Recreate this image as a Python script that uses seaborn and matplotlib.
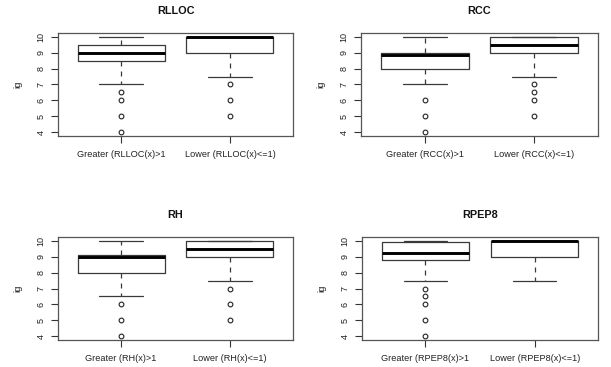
import matplotlib
matplotlib.use("Agg")
import matplotlib.pyplot as plt
import seaborn as sns

sns.set_theme(style="ticks")
plt.rcParams['font.family'] = ['Liberation Sans', 'DejaVu Sans']

metrics = ["RLLOC", "RCC", "RH", "RPEP8"]

# (lower whisker, Q1, median, Q3, upper whisker) for each metric group
rlloc_greater = [7.0, 8.5, 9.0, 9.5, 10.0]
rlloc_lower = [7.5, 9.0, 10.0, 10.0, 10.0]
rcc_greater = [7.0, 8.0, 8.83, 9.0, 10.0]
rcc_lower = [7.5, 9.0, 9.5, 10.0, 10.0]
rh_greater = [6.5, 8.0, 9.0, 9.1, 10.0]
rh_lower = [7.5, 9.0, 9.5, 10.0, 10.0]
rpep8_greater = [7.5, 8.82, 9.22, 9.9, 10.0]
rpep8_lower = [7.5, 9.0, 10.0, 10.0, 10.0]

# outlying observations
rlloc_greater_out = [6.5, 6.0, 5.0, 4.0]
rlloc_lower_out = [7.0, 6.0, 5.0]
rcc_greater_out = [6.0, 5.0, 4.0]
rcc_lower_out = [7.0, 6.5, 6.0, 5.0]
rh_greater_out = [6.0, 5.0, 4.0]
rh_lower_out = [7.0, 6.0, 5.0]
rpep8_greater_out = [7.0, 6.5, 6.0, 5.0, 4.0]
rpep8_lower_out = []

y_ticks = [4, 5, 6, 7, 8, 9, 10]

groups = {
    "RLLOC": (rlloc_greater, rlloc_greater_out, rlloc_lower, rlloc_lower_out),
    "RCC": (rcc_greater, rcc_greater_out, rcc_lower, rcc_lower_out),
    "RH": (rh_greater, rh_greater_out, rh_lower, rh_lower_out),
    "RPEP8": (rpep8_greater, rpep8_greater_out, rpep8_lower, rpep8_lower_out),
}


def make_stats(five, fliers, label):
    lo, q1, med, q3, hi = five
    return dict(whislo=lo, q1=q1, med=med, q3=q3, whishi=hi, fliers=fliers, label=label)


fig = plt.figure(figsize=(6.11, 3.67), dpi=100)
fig.patch.set_facecolor("white")

positions = {
    "RLLOC": [58 / 611, 1 - 136 / 367, 235 / 611, 103 / 367],
    "RCC": [361 / 611, 1 - 136 / 367, 237 / 611, 103 / 367],
    "RH": [58 / 611, 1 - 340 / 367, 235 / 611, 103 / 367],
    "RPEP8": [362 / 611, 1 - 340 / 367, 236 / 611, 103 / 367],
}

line_col = "#3a3a3a"

for name in metrics:
    g_five, g_out, l_five, l_out = groups[name]
    ax = fig.add_axes(positions[name])
    stats = [
        make_stats(g_five, g_out, f"Greater ({name}(x)>1"),
        make_stats(l_five, l_out, f"Lower ({name}(x)<=1)"),
    ]
    ax.bxp(
        stats,
        positions=[1, 2],
        widths=0.8,
        showfliers=True,
        boxprops=dict(color=line_col, linewidth=0.9),
        medianprops=dict(color="black", linewidth=2.1, solid_capstyle="butt"),
        whiskerprops=dict(color=line_col, linewidth=0.9, linestyle=(0, (4, 4))),
        capprops=dict(color=line_col, linewidth=0.9),
        capwidths=0.4,
        flierprops=dict(marker="o", markersize=3.4, markerfacecolor="none",
                        markeredgecolor="#222222", markeredgewidth=0.8),
    )
    ax.set_xlim(0.42, 2.58)
    ax.set_ylim(3.76, 10.24)
    ax.set_yticks(y_ticks)
    ax.set_yticklabels([str(t) for t in y_ticks], rotation=90, va="center")
    ax.tick_params(axis="both", direction="out", length=5, width=0.8,
                   colors="#333333", labelsize=6.5, labelcolor="#222222")
    ax.tick_params(axis="x", pad=5, labelsize=6.6)
    ax.tick_params(axis="y", pad=4)
    for sp in ax.spines.values():
        sp.set_color("#555555")
        sp.set_linewidth(0.9)
        sp.set_visible(True)
    ax.set_facecolor("white")
    ax.set_ylabel("ig", fontsize=6.8, color="#222222", labelpad=10)
    ax.annotate(name, xy=(0.5, 1.0), xycoords="axes fraction",
                xytext=(0, 15.5), textcoords="offset points",
                ha="center", va="center", fontsize=7.8, fontweight="bold",
                color="#111111")

fig.savefig("out.png", dpi=100, facecolor="white")
